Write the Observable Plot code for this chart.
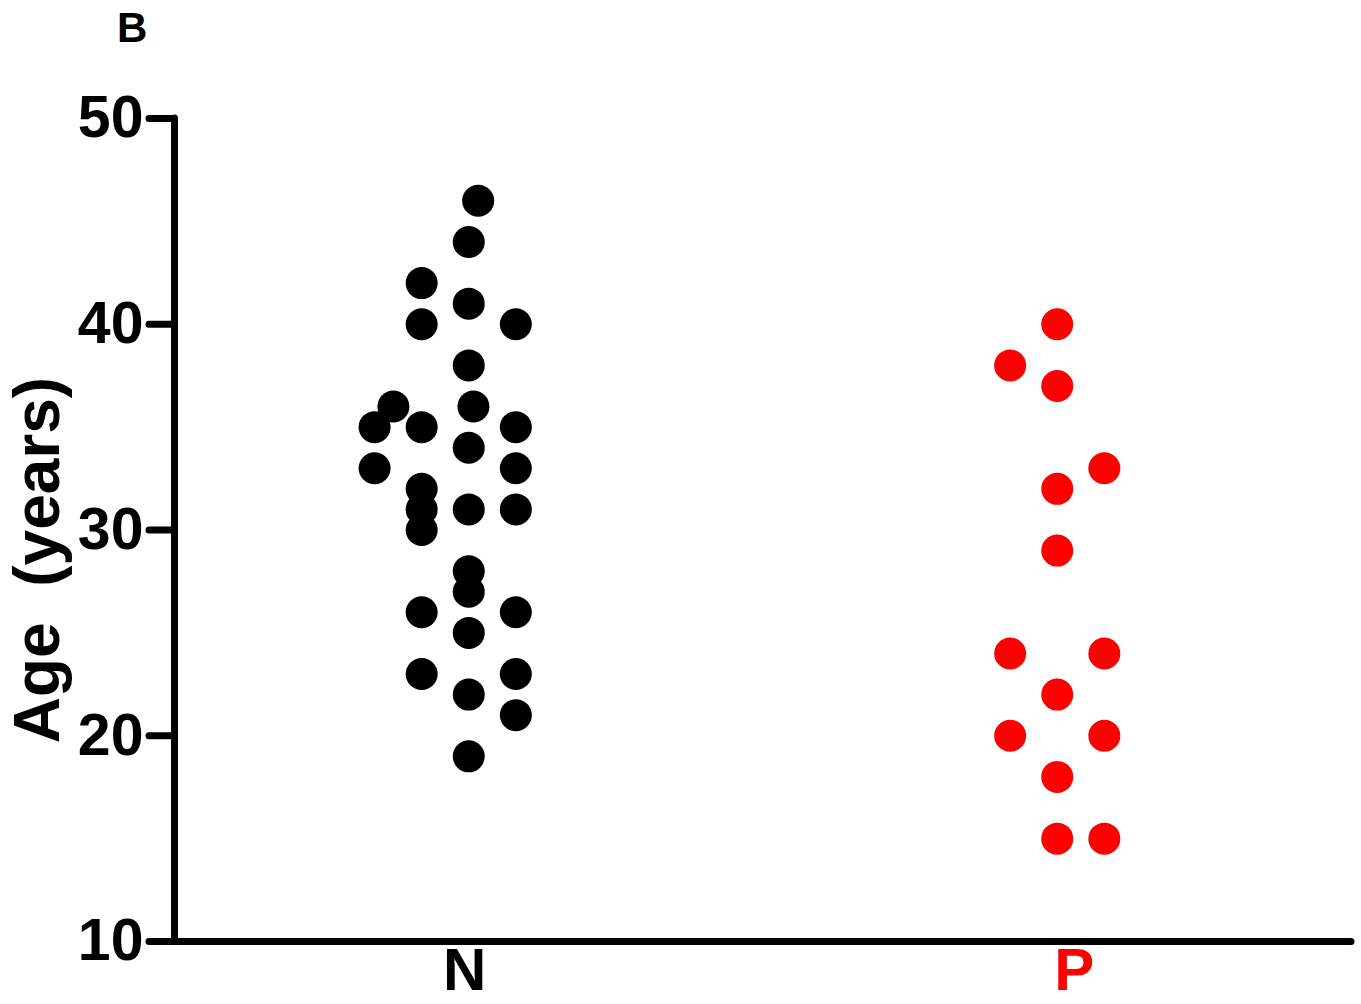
<!DOCTYPE html>
<html><head><meta charset="utf-8">
<script src="https://cdn.jsdelivr.net/npm/d3@7"></script>
<script src="https://cdn.jsdelivr.net/npm/@observablehq/plot@0.6"></script>
<style>
body{margin:0;background:#fff;}
#wrap{position:relative;width:1361px;height:1004px;overflow:hidden;}
#panel{position:absolute;left:117px;top:4px;font:bold 42px "Liberation Sans",Arial,sans-serif;line-height:normal;color:#000;}
#chart{position:absolute;left:0;top:0;}
</style></head><body>
<div id="wrap"><div id="chart"></div><div id="panel">B</div></div>
<script>
const groups = ["N", "P"];
const groupColors = ["#000000", "#ff0000"];
const nAges  = [46, 44, 42, 41, 40, 40, 38, 36, 36, 35, 35, 35, 34, 33, 33, 32, 31, 31, 31, 30, 28, 27, 26, 26, 25, 23, 23, 22, 21, 19];
const nSlots = [0.2, 0, -1, 0, -1, 1, 0, -1.6, 0.1, -2, -1, 1, 0, -2, 1, -1, -1, 0, 1, -1, 0, 0, -1, 1, 0, -1, 1, 0, 1, 0];
const pAges  = [40, 38, 37, 33, 32, 29, 24, 24, 22, 20, 20, 18, 15, 15];
const pSlots = [0, -1, 0, 1, 0, 0, -1, 1, 0, -1, 1, 0, 0, 1];
const yTicks = [10, 20, 30, 40, 50];
const yLabel = "Age\u00a0\u00a0(years)";

const slotWidth = 0.08;
const rows = [
  ...nAges.map((age, i) => ({gi: 0, age, slot: nSlots[i]})),
  ...pAges.map((age, i) => ({gi: 1, age, slot: pSlots[i]}))
];
const font = "'Liberation Sans', Arial, sans-serif";

const chart = Plot.plot({
  width: 1361, height: 1004,
  marginTop: 118, marginBottom: 63, marginLeft: 174, marginRight: 10,
  x: {type: "linear", domain: [-0.5, 1.5], axis: null},
  y: {domain: [10, 50], axis: null},
  color: {type: "identity"},
  style: {fontFamily: font, background: "white", color: "black"},
  marks: [
    Plot.axisY(yTicks, {tickSize: 25, tickPadding: 6, strokeWidth: 7, strokeLinecap: "round", fontSize: 59, fontWeight: "bold", label: null}),
    Plot.ruleX([-0.5], {y1: 10, y2: 50, strokeWidth: 7, strokeLinecap: "round"}),
    Plot.ruleY([10], {x1: -0.5, x2: 1.5, strokeWidth: 7, strokeLinecap: "round"}),
    Plot.dot(rows, {x: d => d.gi + d.slot * slotWidth, y: "age", r: 16, fill: d => groupColors[d.gi], stroke: null}),
    Plot.text([groups[0]], {x: 0, text: d => d, fill: groupColors[0], frameAnchor: "bottom", lineAnchor: "top", dx: -4, dy: 6, fontSize: 60, fontWeight: "bold"}),
    Plot.text([groups[1]], {x: 1, text: d => d, fill: groupColors[1], frameAnchor: "bottom", lineAnchor: "top", dx: 17, dy: 6, fontSize: 60, fontWeight: "bold"}),
    Plot.text([yLabel], {frameAnchor: "left", textAnchor: "middle", rotate: -90, dx: -136, dy: 30, fontSize: 64, fontWeight: "bold", lineAnchor: "middle"})
  ]
});
document.getElementById("chart").appendChild(chart);
</script>
</body></html>
